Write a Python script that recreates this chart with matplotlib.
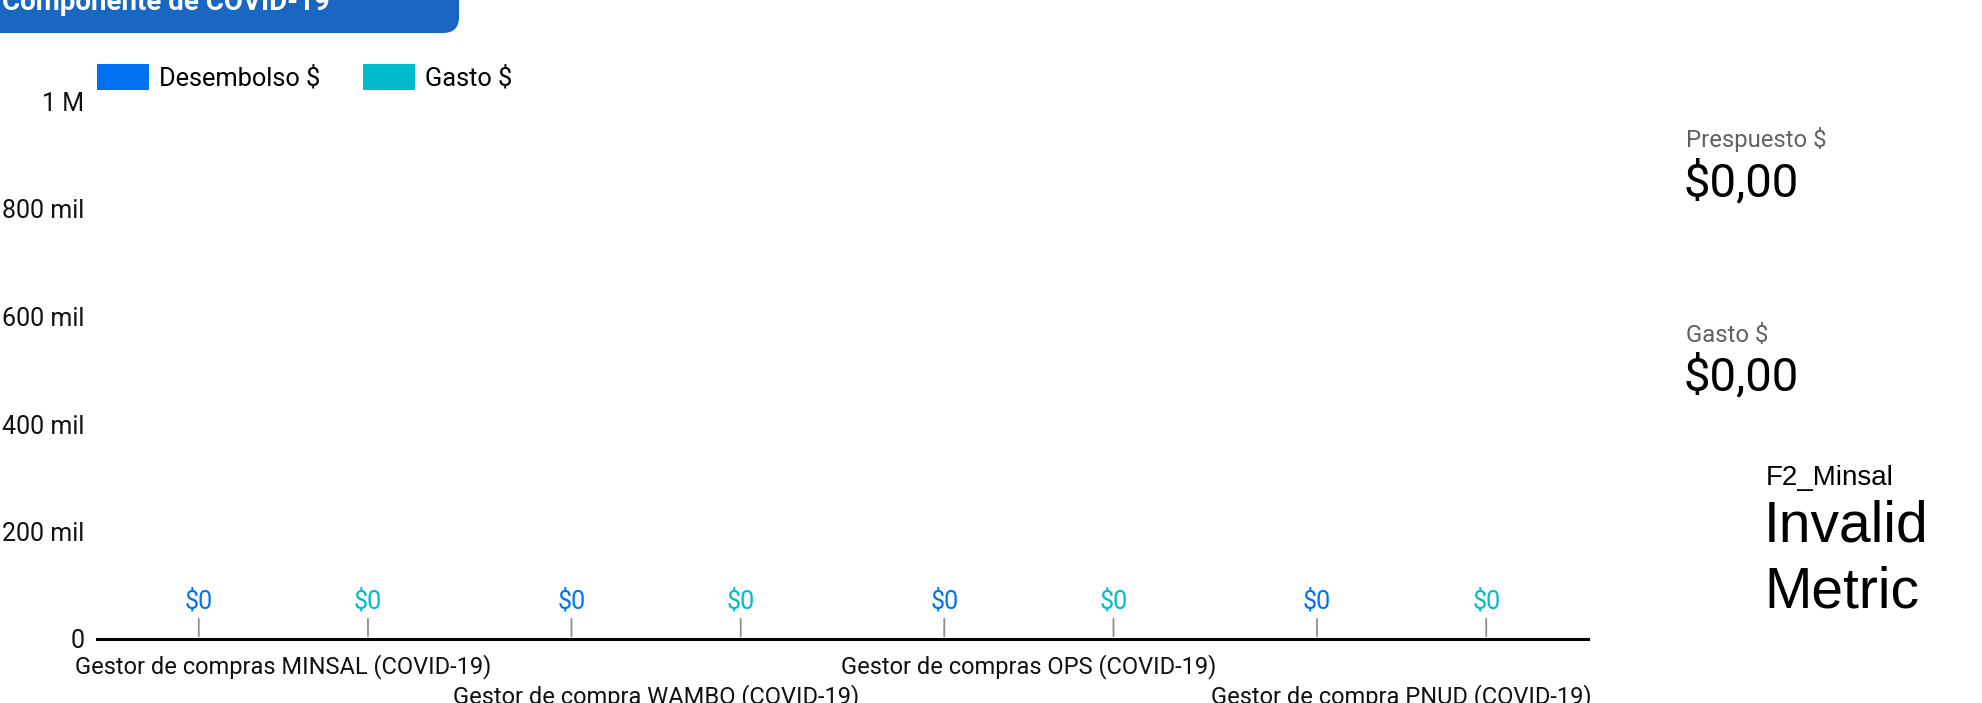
import matplotlib
matplotlib.use("Agg")
import matplotlib.pyplot as plt
from matplotlib.patches import Patch, FancyBboxPatch
import numpy as np

categories = ["Gestor de compras MINSAL (COVID-19)", "Gestor de compra WAMBO (COVID-19)",
              "Gestor de compras OPS (COVID-19)", "Gestor de compra PNUD (COVID-19)"]
desembolso = [0, 0, 0, 0]
gasto = [0, 0, 0, 0]
series_names = ["Desembolso $", "Gasto $"]
yticks = [0, 200000, 400000, 600000, 800000, 1000000]
ytick_labels = ["0", "200 mil", "400 mil", "600 mil", "800 mil", "1 M"]
title = "Componente de COVID-19"
kpi_labels = ["Prespuesto $", "Gasto $"]
kpi_values = ["$0,00", "$0,00"]

C_DES = "#0072F0"
C_GAS = "#00BBCC"
W, H = 1983, 703

plt.rcParams['font.family'] = ['Roboto', 'DejaVu Sans']

fig = plt.figure(figsize=(W / 100, H / 100), dpi=100)

# header
fig.patches.append(FancyBboxPatch((-40 / W, (H - 33) / H), (459 + 40) / W, 80 / H,
                                  boxstyle="round,pad=0,rounding_size=%f" % (16 / W),
                                  transform=fig.transFigure, facecolor="#1967C0",
                                  edgecolor="none", mutation_aspect=W / H))
fig.text(2 / W, 1 - 10 / H, title, color="white", fontsize=20, fontweight="bold",
         ha="left", va="baseline")

ax = fig.add_axes([97 / W, (H - 639) / H, (1588 - 97) / W, (639 - 101.5) / H])
x = np.arange(len(categories))
off = 0.227
ax.bar(x - off, desembolso, width=0.4, color=C_DES, label=series_names[0])
ax.bar(x + off, gasto, width=0.4, color=C_GAS, label=series_names[1])

for xs, vals, col in [(x - off, desembolso, C_DES), (x + off, gasto, C_GAS)]:
    for xi, v in zip(xs, vals):
        ax.annotate(f"${v:,.0f}", xy=(xi, v), xytext=(0, 38), textcoords="offset pixels",
                    ha="center", va="center", color=col, fontsize=18,
                    arrowprops=dict(arrowstyle="-", color="#8E8E8E", lw=1.3,
                                    shrinkA=2, shrinkB=2))

ax.set_xlim(-0.5, len(categories) - 0.5)
ax.set_ylim(0, 1000000)
ax.set_yticks(yticks)
ax.set_yticklabels(ytick_labels)
ax.set_xticks(x)
ax.set_xticklabels(categories)
ax.tick_params(axis="y", length=0, pad=9, labelsize=18, labelcolor="#111111")
ax.tick_params(axis="x", length=0, labelsize=17, labelcolor="#111111")
for i, t in enumerate(ax.xaxis.get_major_ticks()):
    t.set_pad(10.6 if i % 2 == 0 else 32.8)
for s in ["top", "right", "left"]:
    ax.spines[s].set_visible(False)
ax.spines["bottom"].set_linewidth(2.2)
ax.spines["bottom"].set_color("black")

handles = [Patch(facecolor=C_DES), Patch(facecolor=C_GAS)]
fs_leg = 18.3
px = fs_leg * 100 / 72
fig.legend(handles, series_names, loc="center left", bbox_to_anchor=(97 / W, 1 - 77 / H),
           ncol=2, frameon=False, fontsize=fs_leg, handlelength=52 / px, handleheight=1.25,
           handletextpad=10 / px, columnspacing=43 / px, borderpad=0, borderaxespad=0)

# KPI panel
ys_lab = [139, 335]
ys_val = [183, 377]
for lab, val, yl, yv in zip(kpi_labels, kpi_values, ys_lab, ys_val):
    fig.text(1686 / W, 1 - yl / H, lab, fontsize=17.2, color="#616161", ha="left", va="center")
    fig.text(1684 / W, 1 - yv / H, val, fontsize=34, color="black", ha="left", va="center")

fig.text(1766 / W, 1 - 478 / H, "F2_Minsal", fontsize=20, family="Liberation Sans",
         ha="left", va="center", color="black")
fig.text(1764 / W, 1 - 526 / H, "Invalid", fontsize=41, family="Liberation Sans",
         ha="left", va="center", color="black")
fig.text(1764 / W, 1 - 592 / H, "Metric", fontsize=41, family="Liberation Sans",
         ha="left", va="center", color="black")

fig.savefig("out.png", dpi=100, facecolor="white")
